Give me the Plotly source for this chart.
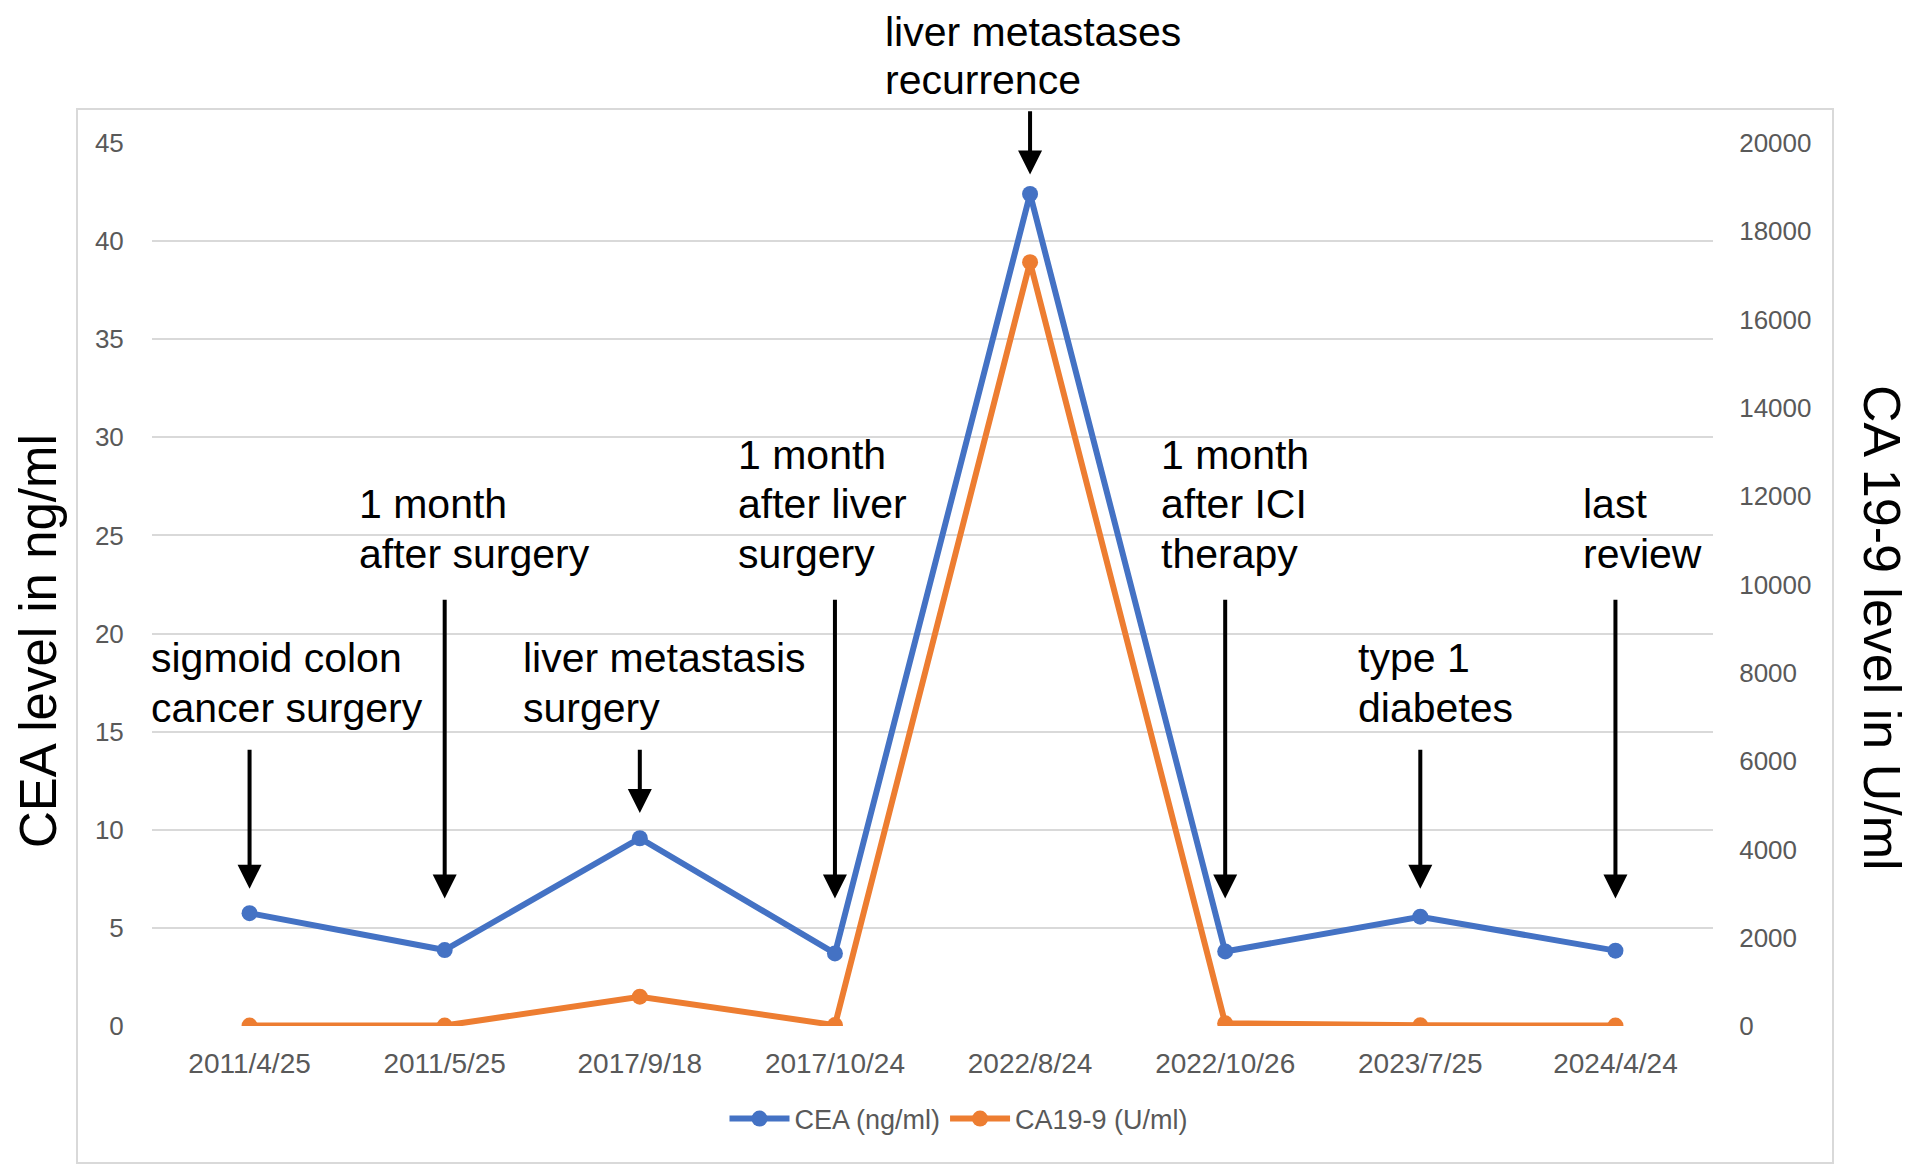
import plotly.graph_objects as go

# sampling dates (category axis)
dates = ["2011/4/25", "2011/5/25", "2017/9/18", "2017/10/24",
         "2022/8/24", "2022/10/26", "2023/7/25", "2024/4/24"]

# tumour markers
cea = [5.75, 3.87, 9.57, 3.7, 42.4, 3.8, 5.57, 3.84]
ca199 = [10, 10, 664, 20, 17300, 60, 15, 10]

# the html page puts the figure 8px in from the top-left corner
OFF = 8
W, H = 1913 - OFF, 1172 - OFF
ML, MR, MT, MB = 152 - OFF, 200, 143 - OFF, 146
FONT = "Liberation Sans, Arial, sans-serif"
GRID = "#d9d9d9"
TICK = "#595959"


def px_x(px):
    # page pixel -> paper x
    return (px - OFF - ML) / (W - ML - MR)


def px_y(py):
    # page pixel -> paper y
    return (H - MB - (py - OFF)) / (H - MT - MB)


# event notes: category, text lines, text x offset (px), line centres (px),
# arrow tail and tip on the CEA axis
events = [
    ("2011/4/25", ["sigmoid colon", "cancer surgery"], -101, [658, 707.5], 14.15, 7.0),
    ("2011/5/25", ["1 month", "after surgery"], -88, [504, 553.5], 21.8, 6.5),
    ("2017/9/18", ["liver metastasis", "surgery"], -119, [658, 707.5], 14.15, 10.85),
    ("2017/10/24", ["1 month", "after liver", "surgery"], -99, [455, 504, 553.5], 21.8, 6.5),
    ("2022/8/24", ["liver metastases", "recurrence"], -147, [32, 80], 46.7, 43.4),
    ("2022/10/26", ["1 month", "after ICI", "therapy"], -66, [455, 504, 553.5], 21.8, 6.5),
    ("2023/7/25", ["type 1", "diabetes"], -64, [658, 707.5], 14.15, 7.0),
    ("2024/4/24", ["last", "review"], -34, [504, 553.5], 21.8, 6.5),
]

fig = go.Figure()
fig.add_trace(go.Scatter(
    x=dates, y=cea, name="CEA (ng/ml)", mode="lines+markers",
    line=dict(color="#4472C4", width=6), marker=dict(size=16, color="#4472C4"),
))
fig.add_trace(go.Scatter(
    x=dates, y=ca199, name="CA19-9 (U/ml)", mode="lines+markers", yaxis="y2",
    line=dict(color="#ED7D31", width=6), marker=dict(size=16, color="#ED7D31"),
))

annotations = []
for cat, lines, dx, centres, tail, tip in events:
    annotations.append(dict(
        x=cat, y=tip, xref="x", yref="y", ax=cat, ay=tail, axref="x", ayref="y",
        text="", showarrow=True, arrowhead=2, arrowsize=1.2, arrowwidth=4,
        arrowcolor="black", standoff=0, startstandoff=0,
    ))
    for line, cy in zip(lines, centres):
        annotations.append(dict(
            x=cat, xref="x", xshift=dx, xanchor="left",
            y=px_y(cy), yref="paper", yanchor="middle",
            text=line, showarrow=False,
            font=dict(family=FONT, size=41, color="black"),
        ))

# axis titles
annotations.append(dict(
    x=px_x(38), y=px_y(641), xref="paper", yref="paper",
    text="CEA level in ng/ml", textangle=-90, showarrow=False,
    xanchor="center", yanchor="middle",
    font=dict(family=FONT, size=51, color="black"),
))
annotations.append(dict(
    x=px_x(1882), y=px_y(628), xref="paper", yref="paper",
    text="CA 19-9 level in U/ml", textangle=90, showarrow=False,
    xanchor="center", yanchor="middle",
    font=dict(family=FONT, size=52, color="black"),
))

fig.update_layout(
    width=W, height=H,
    margin=dict(l=ML, r=MR, t=MT, b=MB),
    plot_bgcolor="white", paper_bgcolor="white",
    font=dict(family=FONT, color=TICK),
    showlegend=True,
    legend=dict(
        orientation="h", x=px_x(959), xanchor="center", y=px_y(1119), yanchor="middle",
        font=dict(family=FONT, size=27, color=TICK), itemwidth=60,
    ),
    xaxis=dict(
        type="category", range=[-0.5, 7.5], showgrid=False, showline=False,
        zeroline=False, ticks="outside", ticklen=12, tickcolor="rgba(0,0,0,0)",
        tickfont=dict(family=FONT, size=28, color=TICK),
    ),
    yaxis=dict(
        range=[0, 45], dtick=5, showgrid=True, gridcolor=GRID, gridwidth=2,
        zeroline=False, showline=False, ticks="outside", ticklen=22,
        tickcolor="rgba(0,0,0,0)", tickfont=dict(family=FONT, size=26, color=TICK),
    ),
    yaxis2=dict(
        range=[0, 20000], dtick=2000, tickformat="d", overlaying="y", side="right",
        showgrid=False, zeroline=False, showline=False, ticks="outside", ticklen=20,
        tickcolor="rgba(0,0,0,0)", tickfont=dict(family=FONT, size=26, color=TICK),
    ),
    annotations=annotations,
    shapes=[dict(
        type="rect", xref="paper", yref="paper",
        x0=px_x(77), x1=px_x(1833), y0=px_y(1163), y1=px_y(109),
        line=dict(color=GRID, width=2), layer="below",
    )],
)

fig.write_html("out.html")
